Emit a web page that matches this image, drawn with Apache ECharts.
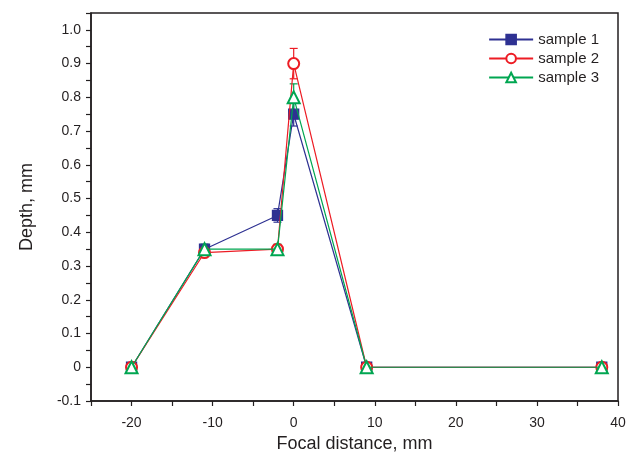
<!DOCTYPE html>
<html>
<head>
<meta charset="utf-8">
<script src="https://cdn.jsdelivr.net/npm/echarts@6/dist/echarts.min.js"></script>
<style>
html, body { margin: 0; padding: 0; background: #fff; }
#main { width: 639px; height: 459px; }
</style>
</head>
<body>
<div id="main"></div>
<script>
// focal distance (mm)
var focal = [-20, -11, -2, 0, 9, 38];
// depth (mm) for each sample
var sample1 = [0, 0.35, 0.45, 0.75, 0, 0];
var sample2 = [0, 0.34, 0.35, 0.90, 0, 0];
var sample3 = [0, 0.35, 0.35, 0.80, 0, 0];
// error bars (+/-)
var err1 = [0.005, 0.01, 0.02, 0.035, 0, 0];
var err2 = [0.005, 0.01, 0.012, 0.045, 0, 0];
var err3 = [0.005, 0.015, 0.015, 0.04, 0, 0];

var names = ["sample 1", "sample 2", "sample 3"];
var colors = ["#2e3192", "#ed1c24", "#00a651"];
var symbols = ["rect", "emptyCircle", "emptyTriangle"];
var symSizes = [10, 11, 12];

var chart = echarts.init(document.getElementById("main"));

function pairs(ys) {
    var out = [];
    for (var i = 0; i < focal.length; i++) out.push([focal[i], ys[i]]);
    return out;
}
function errData(ys, es) {
    var out = [];
    for (var i = 0; i < focal.length; i++) {
        if (es[i] > 0) out.push([focal[i], ys[i] - es[i], ys[i] + es[i]]);
    }
    return out;
}
function errSeries(ys, es, color) {
    return {
        type: "custom",
        data: errData(ys, es),
        z: 1,
        silent: true,
        renderItem: function (params, api) {
            var x = api.value(0);
            var lo = api.coord([x, api.value(1)]);
            var hi = api.coord([x, api.value(2)]);
            var w = 4;
            var st = { stroke: color, lineWidth: 1.2 };
            return {
                type: "group",
                children: [
                    { type: "line", shape: { x1: lo[0], y1: lo[1], x2: hi[0], y2: hi[1] }, style: st },
                    { type: "line", shape: { x1: hi[0] - w, y1: hi[1], x2: hi[0] + w, y2: hi[1] }, style: st },
                    { type: "line", shape: { x1: lo[0] - w, y1: lo[1], x2: lo[0] + w, y2: lo[1] }, style: st }
                ]
            };
        }
    };
}

var allSeries = [];
var data = [sample1, sample2, sample3];
var errs = [err1, err2, err3];
for (var k = 0; k < 3; k++) {
    allSeries.push(errSeries(data[k], errs[k], colors[k]));
}
for (var k = 0; k < 3; k++) {
    allSeries.push({
        name: names[k],
        type: "line",
        data: pairs(data[k]),
        symbol: symbols[k],
        symbolSize: symSizes[k],
        showAllSymbol: true,
        z: 2 + k,
        lineStyle: { color: colors[k], width: 1.2 },
        itemStyle: { color: colors[k], borderColor: colors[k], borderWidth: 1.3 }
    });
}

var axisText = { color: "#231f20", fontFamily: "Liberation Sans, Arial, sans-serif" };

var option = {
    animation: false,
    backgroundColor: "#fff",
    grid: {
        left: 91, right: 21, top: 13, bottom: 58,
        show: true, borderColor: "#231f20", borderWidth: 1.5, backgroundColor: "transparent"
    },
    legend: {
        orient: "vertical",
        right: 35,
        top: 27,
        itemGap: 4,
        itemWidth: 44,
        itemHeight: 12,
        data: names,
        textStyle: { color: "#231f20", fontSize: 15, fontFamily: "Liberation Sans, Arial, sans-serif" }
    },
    xAxis: {
        type: "value",
        min: -25,
        max: 40,
        interval: 5,
        name: "Focal distance, mm",
        nameLocation: "middle",
        nameGap: 33,
        nameTextStyle: { color: "#231f20", fontSize: 18, fontFamily: "Liberation Sans, Arial, sans-serif" },
        axisLine: { show: true, onZero: false, lineStyle: { color: "#231f20", width: 1.5 } },
        axisTick: { show: true, inside: false, length: 5, lineStyle: { color: "#231f20", width: 1.2 } },
        splitLine: { show: false },
        axisLabel: Object.assign({
            fontSize: 14, margin: 15,
            showMinLabel: true, showMaxLabel: true,
            formatter: function (v) { return (Math.round(v) % 10 === 0) ? String(Math.round(v)) : ""; }
        }, axisText)
    },
    yAxis: {
        type: "value",
        min: -0.1,
        max: 1.05,
        interval: 0.05,
        name: "Depth, mm",
        nameLocation: "middle",
        nameGap: 55,
        nameTextStyle: { color: "#231f20", fontSize: 18, fontFamily: "Liberation Sans, Arial, sans-serif" },
        axisLine: { show: true, onZero: false, lineStyle: { color: "#231f20", width: 1.5 } },
        axisTick: { show: true, inside: false, length: 5, lineStyle: { color: "#231f20", width: 1.2 } },
        splitLine: { show: false },
        axisLabel: Object.assign({
            fontSize: 14, margin: 10,
            formatter: function (v) {
                var n = Math.round(v * 100);
                if (n % 10 !== 0) return "";
                if (n === 0) return "0";
                return (n / 100).toFixed(1);
            }
        }, axisText)
    },
    series: allSeries
};

chart.setOption(option);
</script>
</body>
</html>
